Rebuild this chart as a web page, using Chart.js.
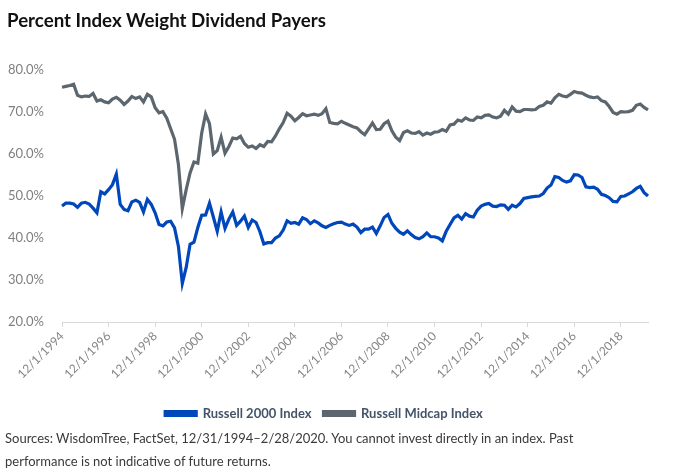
<!DOCTYPE html>
<html>
<head>
<meta charset="utf-8">
<script src="https://cdn.jsdelivr.net/npm/chart.js@4/dist/chart.umd.min.js"></script>
<style>
  body { margin: 0; background: #fff; }
  #wrap { position: relative; width: 700px; height: 475px; overflow: hidden; }
  #title { position: absolute; left: 7px; top: 7px; font: 700 18.7px Lato, sans-serif; color: #111; line-height: 26px; }
  #box { position: absolute; left: 0; top: 0; width: 700px; height: 430px; }
  #note { position: absolute; left: 5px; top: 427px; font: 400 13px Lato, sans-serif; color: #3a3a3a; line-height: 23px; }
</style>
</head>
<body>
<div id="wrap">
  <div id="box"><canvas id="c"></canvas></div>
  <div id="title">Percent Index Weight Dividend Payers</div>
  <div id="note">Sources: WisdomTree, FactSet, 12/31/1994–2/28/2020. You cannot invest directly in an index. Past<br>performance is not indicative of future returns.</div>
</div>
<script>
// every second month, 12/1994 .. 2/2020
const months = [];
for (let m = 0; m <= 302; m += 2) {
  const d = new Date(1994, 11 + m, 1);
  months.push((d.getMonth() + 1) + '/1/' + d.getFullYear());
}

// Russell 2000 Index (%)
const russell2000 = [
  47.6, 48.3, 48.3, 48.1, 47.3, 48.3, 48.5, 48.1, 47.1, 46.0, 51.0, 50.5,
  51.5, 52.7, 55.2, 48.0, 46.8, 46.5, 48.6, 49.0, 48.5, 46.2, 49.2, 48.0,
  46.0, 43.2, 42.9, 43.8, 44.0, 42.4, 38.0, 29.2, 33.0, 38.5, 39.0, 42.5,
  45.4, 45.5, 48.3, 45.0, 41.6, 46.2, 42.3, 44.5, 46.2, 43.0, 44.0, 45.2,
  42.5, 44.3, 43.7, 41.5, 38.6, 38.9, 38.9, 40.0, 40.5, 41.9, 44.1, 43.5,
  43.7, 43.3, 44.8, 44.4, 43.4, 44.1, 43.6, 42.9, 42.5, 43.0, 43.4, 43.7,
  43.8, 43.3, 43.0, 43.3, 42.6, 41.3, 42.1, 42.1, 42.6, 41.1, 42.9, 44.9,
  45.6, 43.5, 42.3, 41.4, 40.9, 41.7, 40.8, 40.1, 39.8, 40.3, 41.2, 40.3,
  40.3, 40.0, 39.3, 41.6, 43.2, 44.8, 45.4, 44.5, 45.8, 45.2, 45.0, 46.6,
  47.6, 48.0, 48.2, 47.6, 47.5, 47.9, 47.8, 46.8, 47.8, 47.4, 48.2, 49.4,
  49.6, 49.8, 49.9, 50.0, 50.6, 51.9, 52.6, 54.6, 54.4, 53.7, 53.3, 53.6,
  55.1, 55.0, 54.4, 52.2, 52.0, 52.1, 51.6, 50.4, 50.1, 49.6, 48.7, 48.6,
  49.9, 50.0, 50.5, 51.0, 51.8, 52.3, 50.8, 50.0
];

// Russell Midcap Index (%)
const russellMidcap = [
  75.9, 76.1, 76.3, 76.6, 74.0, 73.6, 73.8, 73.7, 74.4, 72.6, 72.9, 72.4,
  72.2, 73.1, 73.5, 72.8, 71.8, 72.6, 73.7, 73.2, 73.6, 72.4, 74.2, 73.6,
  71.0, 69.8, 70.1, 68.5, 66.0, 63.5, 57.5, 47.0, 51.5, 55.5, 58.1, 57.8,
  65.0, 69.5, 67.2, 60.0, 60.8, 64.0, 60.2, 61.8, 63.8, 63.6, 64.2, 62.5,
  61.6, 61.9, 61.3, 62.2, 61.8, 63.0, 62.9, 64.3, 66.0, 67.5, 69.7, 69.0,
  67.9, 68.7, 69.6, 69.1, 69.3, 69.5, 69.2, 69.6, 70.8, 67.5, 67.3, 67.2,
  67.8, 67.3, 66.9, 66.5, 66.2, 65.3, 64.6, 66.0, 67.4, 65.8, 65.9, 67.2,
  67.8, 65.5, 64.0, 63.2, 65.1, 65.5, 65.0, 64.9, 65.3, 64.5, 65.0, 64.7,
  65.2, 65.3, 65.8, 65.4, 66.9, 67.1, 68.1, 67.8, 68.6, 68.1, 68.0, 68.8,
  68.6, 69.2, 69.3, 68.8, 68.6, 69.0, 70.4, 69.5, 71.2, 70.2, 70.1, 70.6,
  70.6, 70.5, 70.6, 71.3, 71.6, 72.4, 72.1, 73.4, 74.2, 73.8, 73.6, 74.2,
  74.9, 74.6, 74.5, 74.0, 73.6, 73.4, 73.6, 72.7, 72.4, 71.3, 69.9, 69.5,
  70.1, 70.0, 70.1, 70.4, 71.6, 71.9, 71.1, 70.5
];

const yTicks = [20, 30, 40, 50, 60, 70, 80];
const labelEvery = 12; // one label per two years

const blue = '#0047bb';
const grey = '#5c666f';

new Chart(document.getElementById('c'), {
  type: 'line',
  data: {
    labels: months,
    datasets: [
      { label: 'Russell 2000 Index', data: russell2000, borderColor: blue, backgroundColor: blue,
        borderWidth: 3.2, pointRadius: 0, tension: 0 },
      { label: 'Russell Midcap Index', data: russellMidcap, borderColor: grey, backgroundColor: grey,
        borderWidth: 3.2, pointRadius: 0, tension: 0 }
    ]
  },
  options: {
    responsive: true,
    maintainAspectRatio: false,
    animation: false,
    layout: { padding: { top: 70, right: 52, left: 0, bottom: 0 } },
    plugins: {
      title: { display: false },
      tooltip: { enabled: false },
      legend: {
        position: 'bottom',
        labels: {
          boxWidth: 31, boxHeight: 4, padding: 12,
          color: '#44546a',
          font: { family: 'Lato', size: 13, weight: '700' }
        }
      }
    },
    scales: {
      x: {
        grid: {
          drawOnChartArea: false,
          tickLength: 5,
          color: ctx => (ctx.index % labelEvery === 0 ? '#d9d9d9' : 'rgba(0,0,0,0)')
        },
        border: { display: true, color: '#d9d9d9' },
        ticks: {
          autoSkip: false,
          maxRotation: 45, minRotation: 45,
          padding: 2,
          color: '#858585',
          font: { family: 'Lato', size: 12 },
          callback: (v, i) => (i % labelEvery === 0 ? months[i] : '')
        },
        afterFit: s => { s.height = 73; }
      },
      y: {
        min: 20, max: 80,
        afterBuildTicks: s => { s.ticks = yTicks.map(v => ({ value: v })); },
        grid: { display: false },
        border: { display: false },
        ticks: {
          padding: 10,
          color: '#7f7f7f',
          font: { family: 'Lato', size: 13 },
          callback: v => v.toFixed(1) + '%'
        },
        afterFit: s => { s.width = 62; }
      }
    }
  }
});
</script>
</body>
</html>
